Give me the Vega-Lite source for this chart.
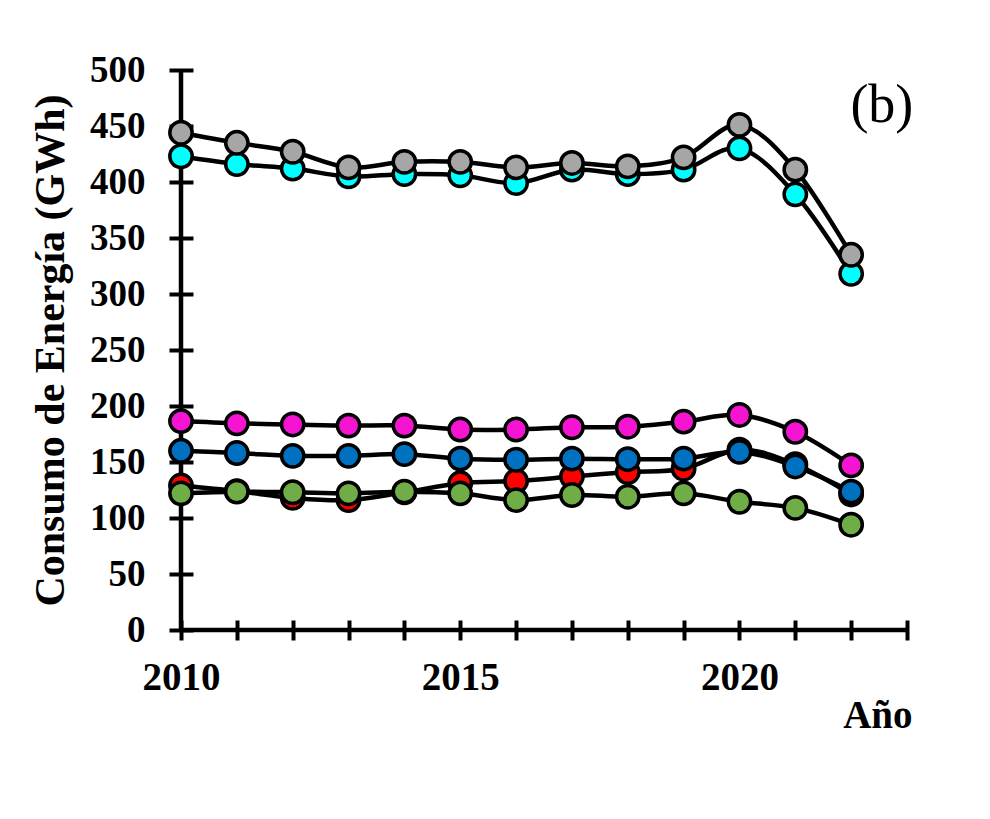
{
  "$schema": "https://vega.github.io/schema/vega-lite/v6.json",
  "width": 726,
  "height": 560,
  "autosize": {"type": "none"},
  "padding": {"left": 181, "top": 70, "right": 83, "bottom": 189},
  "background": "white",
  "config": {"view": {"stroke": null}},
  "datasets": {
    "series": [
      {"serie": "S1", "anio": 2010, "valor": 129}, {"serie": "S1", "anio": 2011, "valor": 124}, {"serie": "S1", "anio": 2012, "valor": 118}, {"serie": "S1", "anio": 2013, "valor": 116}, {"serie": "S1", "anio": 2014, "valor": 123}, {"serie": "S1", "anio": 2015, "valor": 131}, {"serie": "S1", "anio": 2016, "valor": 133}, {"serie": "S1", "anio": 2017, "valor": 137}, {"serie": "S1", "anio": 2018, "valor": 141}, {"serie": "S1", "anio": 2019, "valor": 144}, {"serie": "S1", "anio": 2020, "valor": 161}, {"serie": "S1", "anio": 2021, "valor": 148}, {"serie": "S1", "anio": 2022, "valor": 121},
      {"serie": "S2", "anio": 2010, "valor": 122}, {"serie": "S2", "anio": 2011, "valor": 123.5}, {"serie": "S2", "anio": 2012, "valor": 123}, {"serie": "S2", "anio": 2013, "valor": 122}, {"serie": "S2", "anio": 2014, "valor": 123.5}, {"serie": "S2", "anio": 2015, "valor": 122}, {"serie": "S2", "anio": 2016, "valor": 116}, {"serie": "S2", "anio": 2017, "valor": 120.5}, {"serie": "S2", "anio": 2018, "valor": 119}, {"serie": "S2", "anio": 2019, "valor": 122}, {"serie": "S2", "anio": 2020, "valor": 114.5}, {"serie": "S2", "anio": 2021, "valor": 109}, {"serie": "S2", "anio": 2022, "valor": 94},
      {"serie": "S3", "anio": 2010, "valor": 423}, {"serie": "S3", "anio": 2011, "valor": 416}, {"serie": "S3", "anio": 2012, "valor": 412}, {"serie": "S3", "anio": 2013, "valor": 405}, {"serie": "S3", "anio": 2014, "valor": 407}, {"serie": "S3", "anio": 2015, "valor": 406}, {"serie": "S3", "anio": 2016, "valor": 399}, {"serie": "S3", "anio": 2017, "valor": 411}, {"serie": "S3", "anio": 2018, "valor": 407}, {"serie": "S3", "anio": 2019, "valor": 411}, {"serie": "S3", "anio": 2020, "valor": 430}, {"serie": "S3", "anio": 2021, "valor": 389}, {"serie": "S3", "anio": 2022, "valor": 318},
      {"serie": "S4", "anio": 2010, "valor": 444}, {"serie": "S4", "anio": 2011, "valor": 435}, {"serie": "S4", "anio": 2012, "valor": 427}, {"serie": "S4", "anio": 2013, "valor": 413}, {"serie": "S4", "anio": 2014, "valor": 418}, {"serie": "S4", "anio": 2015, "valor": 418}, {"serie": "S4", "anio": 2016, "valor": 413}, {"serie": "S4", "anio": 2017, "valor": 417}, {"serie": "S4", "anio": 2018, "valor": 414}, {"serie": "S4", "anio": 2019, "valor": 422}, {"serie": "S4", "anio": 2020, "valor": 451}, {"serie": "S4", "anio": 2021, "valor": 411}, {"serie": "S4", "anio": 2022, "valor": 335},
      {"serie": "S5", "anio": 2010, "valor": 160}, {"serie": "S5", "anio": 2011, "valor": 158}, {"serie": "S5", "anio": 2012, "valor": 155.5}, {"serie": "S5", "anio": 2013, "valor": 155.5}, {"serie": "S5", "anio": 2014, "valor": 157}, {"serie": "S5", "anio": 2015, "valor": 153}, {"serie": "S5", "anio": 2016, "valor": 152}, {"serie": "S5", "anio": 2017, "valor": 153}, {"serie": "S5", "anio": 2018, "valor": 152.5}, {"serie": "S5", "anio": 2019, "valor": 153}, {"serie": "S5", "anio": 2020, "valor": 159}, {"serie": "S5", "anio": 2021, "valor": 146}, {"serie": "S5", "anio": 2022, "valor": 123.5},
      {"serie": "S6", "anio": 2010, "valor": 186.5}, {"serie": "S6", "anio": 2011, "valor": 184.5}, {"serie": "S6", "anio": 2012, "valor": 183.5}, {"serie": "S6", "anio": 2013, "valor": 182.5}, {"serie": "S6", "anio": 2014, "valor": 182.5}, {"serie": "S6", "anio": 2015, "valor": 179}, {"serie": "S6", "anio": 2016, "valor": 179}, {"serie": "S6", "anio": 2017, "valor": 181}, {"serie": "S6", "anio": 2018, "valor": 181.5}, {"serie": "S6", "anio": 2019, "valor": 186}, {"serie": "S6", "anio": 2020, "valor": 192}, {"serie": "S6", "anio": 2021, "valor": 177}, {"serie": "S6", "anio": 2022, "valor": 147}
    ],
    "etiqueta": [{"texto": "(b)", "x": 2022.55, "y": 468}],
    "ejes": [{"x0": 2010, "x1": 2023, "y0": 0, "y1": 500}]
  },
  "layer": [
    {
      "data": {"name": "ejes"},
      "mark": {"type": "rule", "stroke": "black", "strokeWidth": 4.5},
      "encoding": {
        "x": {"field": "x0", "type": "quantitative", "scale": {"domain": [2010, 2023], "nice": false, "zero": false}},
        "y": {"field": "y0", "type": "quantitative", "scale": {"domain": [0, 500], "nice": false}},
        "y2": {"field": "y1"}
      }
    },
    {
      "data": {"name": "ejes"},
      "mark": {"type": "rule", "stroke": "black", "strokeWidth": 4.5},
      "encoding": {
        "x": {"field": "x0", "type": "quantitative"},
        "x2": {"field": "x1"},
        "y": {"field": "y0", "type": "quantitative"}
      }
    },
    {
      "data": {"name": "series"},
      "mark": {"type": "line", "interpolate": "cardinal", "stroke": "black", "strokeWidth": 4.5},
      "encoding": {
        "x": {
          "field": "anio", "type": "quantitative",
          "scale": {"domain": [2010, 2023], "nice": false, "zero": false},
          "axis": {
            "orient": "bottom",
            "offset": -10,
            "values": [2010, 2011, 2012, 2013, 2014, 2015, 2016, 2017, 2018, 2019, 2020, 2021, 2022, 2023],
            "format": "d",
            "labelExpr": "datum.value == 2010 || datum.value == 2015 || datum.value == 2020 ? datum.label : ''",
            "labelFont": "Liberation Serif", "labelFontWeight": "bold", "labelFontSize": 39, "labelColor": "black",
            "labelPadding": 18, "labelFlush": false, "labelOverlap": false,
            "tickSize": 20, "tickWidth": 4, "tickColor": "black",
            "domain": false, "grid": false,
            "title": "Año", "titleFont": "Liberation Serif", "titleFontWeight": "bold", "titleFontSize": 39, "titleColor": "black",
            "titleAnchor": "end", "titleAlign": "right", "titleBaseline": "alphabetic", "titleX": 731, "titleY": 107
          }
        },
        "y": {
          "field": "valor", "type": "quantitative",
          "scale": {"domain": [0, 500], "nice": false},
          "axis": {
            "orient": "left",
            "offset": -12,
            "values": [0, 50, 100, 150, 200, 250, 300, 350, 400, 450, 500],
            "labelFont": "Liberation Serif", "labelFontWeight": "bold", "labelFontSize": 37, "labelColor": "black",
            "labelPadding": 24, "labelFlush": false, "labelOverlap": false,
            "tickSize": 24, "tickWidth": 4, "tickColor": "black",
            "domain": false, "grid": false,
            "title": "Consumo de Energía (GWh)", "titleFont": "Liberation Serif", "titleFontWeight": "bold", "titleFontSize": 42, "titleColor": "black",
            "titleBaseline": "alphabetic", "titleX": -130, "titleAngle": -90
          }
        },
        "detail": {"field": "serie", "type": "nominal"}
      }
    },
    {
      "data": {"name": "series"},
      "mark": {"type": "point", "shape": "circle", "filled": true, "size": 500, "stroke": "black", "strokeWidth": 3.5, "opacity": 1},
      "encoding": {
        "x": {"field": "anio", "type": "quantitative"},
        "y": {"field": "valor", "type": "quantitative"},
        "fill": {
          "field": "serie", "type": "nominal",
          "scale": {"domain": ["S1", "S2", "S3", "S4", "S5", "S6"], "range": ["#FF0000", "#70AD47", "#00FFFF", "#A6A6A6", "#0070C0", "#F514D2"]},
          "legend": null
        }
      }
    },
    {
      "data": {"name": "etiqueta"},
      "mark": {"type": "text", "font": "Liberation Serif", "fontSize": 54, "color": "black", "align": "center", "baseline": "middle"},
      "encoding": {
        "x": {"field": "x", "type": "quantitative"},
        "y": {"field": "y", "type": "quantitative"},
        "text": {"field": "texto"}
      }
    }
  ]
}
